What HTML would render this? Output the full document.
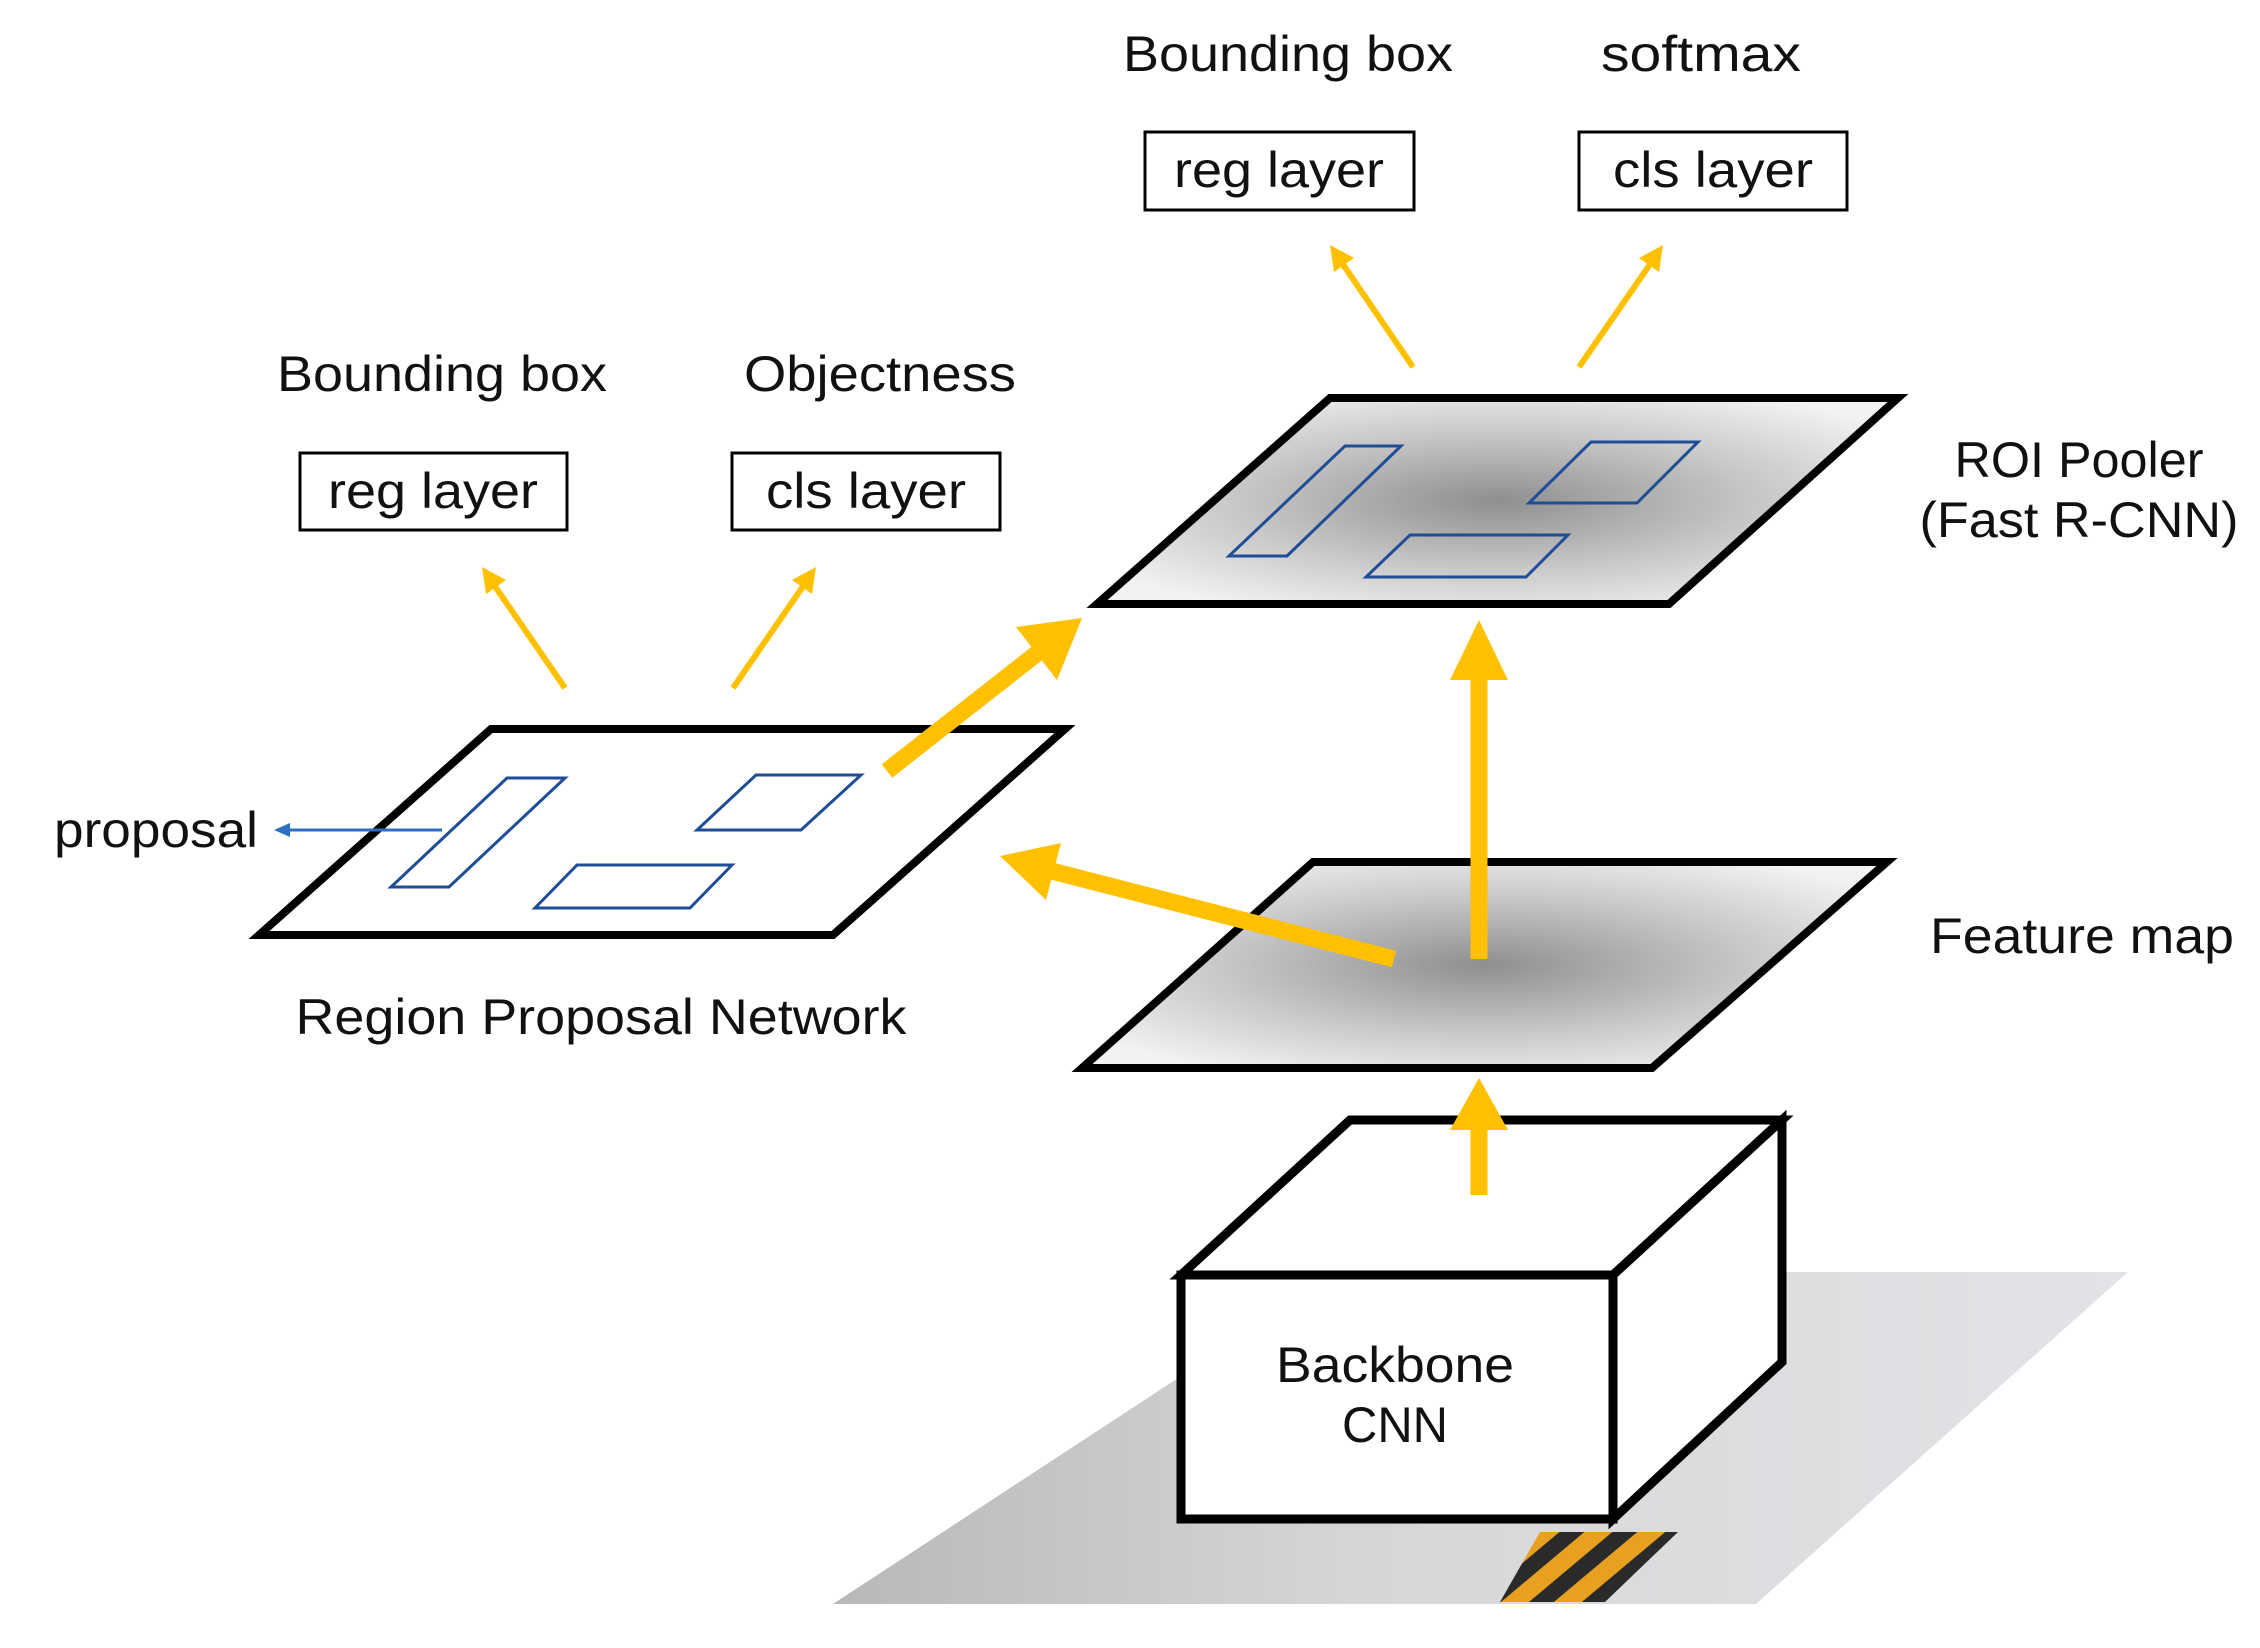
<!DOCTYPE html>
<html><head><meta charset="utf-8"><style>
html,body{margin:0;padding:0;background:#fff;}
svg{display:block;}
text{font-family:"Liberation Sans Narrow","Liberation Sans",sans-serif;fill:#111;font-size:50px;}
</style></head><body>
<svg width="2260" height="1648" viewBox="0 0 2260 1648" xmlns="http://www.w3.org/2000/svg">
<defs>
<radialGradient id="g1" cx="50%" cy="50%" r="60%">
<stop offset="0" stop-color="#8f8f8f"/><stop offset="0.55" stop-color="#c8c8c8"/><stop offset="1" stop-color="#f2f2f2"/>
</radialGradient>
<linearGradient id="ph" x1="0" y1="0" x2="1" y2="0">
<stop offset="0" stop-color="#b8b8b8"/><stop offset="0.4" stop-color="#d6d6d8"/><stop offset="1" stop-color="#e4e2e6"/>
</linearGradient>
<pattern id="hz" width="34" height="34" patternUnits="userSpaceOnUse" patternTransform="rotate(-40)">
<rect width="34" height="34" fill="#e8a020"/><rect width="34" height="16" fill="#2a2a2a"/>
</pattern>
</defs>
<!-- photo base -->
<polygon points="1340,1272 2128,1272 1756,1604 833,1604" fill="url(#ph)"/>
<polygon points="1540,1532 1678,1532 1605,1602 1500,1602" fill="url(#hz)"/>
<!-- backbone box -->
<polygon points="1181,1275 1350,1120 1782,1120 1613,1275" fill="#fff" stroke="#000" stroke-width="9" stroke-linejoin="miter"/>
<polygon points="1782,1120 1782,1362 1613,1519 1613,1275" fill="#fff" stroke="#000" stroke-width="9"/>
<rect x="1181" y="1275" width="432" height="244" fill="#fff" stroke="#000" stroke-width="9"/>
<text x="1395" y="1382" text-anchor="middle" textLength="238" lengthAdjust="spacingAndGlyphs">Backbone</text>
<text x="1395" y="1442" text-anchor="middle" textLength="106" lengthAdjust="spacingAndGlyphs">CNN</text>
<!-- feature map -->
<polygon points="1313,862 1887,862 1652,1068 1082,1068" fill="url(#g1)" stroke="#000" stroke-width="8"/>
<text x="2082" y="953" text-anchor="middle" textLength="304" lengthAdjust="spacingAndGlyphs">Feature map</text>
<!-- ROI pooler -->
<polygon points="1330,398 1898,398 1669,604 1097,604" fill="url(#g1)" stroke="#000" stroke-width="8"/>
<g fill="none" stroke="#1f4e96" stroke-width="3">
<polygon points="1229,556 1287,556 1401,446 1345,446"/>
<polygon points="1366,577 1526,577 1568,535 1410,535"/>
<polygon points="1529,503 1637,503 1698,442 1591,442"/>
</g>
<text x="2079" y="477" text-anchor="middle" textLength="249" lengthAdjust="spacingAndGlyphs">ROI Pooler</text>
<text x="2079" y="537" text-anchor="middle" textLength="319" lengthAdjust="spacingAndGlyphs">(Fast R-CNN)</text>
<!-- RPN -->
<polygon points="491,729 1065,729 833,935 259,935" fill="#fff" stroke="#000" stroke-width="8"/>
<g fill="none" stroke="#1f4e96" stroke-width="3">
<polygon points="391,887 449,887 565,778 507,778"/>
<polygon points="535,908 690,908 732,865 577,865"/>
<polygon points="697,830 801,830 861,775 756,775"/>
</g>
<line x1="442" y1="830" x2="285" y2="830" stroke="#2a6fc0" stroke-width="3"/>
<polygon points="274,830 290,823 290,837" fill="#2a6fc0"/>
<text x="156" y="847" text-anchor="middle" textLength="204" lengthAdjust="spacingAndGlyphs">proposal</text>
<text x="601" y="1034" text-anchor="middle" textLength="611" lengthAdjust="spacingAndGlyphs">Region Proposal Network</text>
<!-- big yellow arrows -->
<g stroke="#ffc000" stroke-width="17" fill="#ffc000">
<line x1="887" y1="771" x2="1040" y2="651"/>
<line x1="1394" y1="959" x2="1040" y2="868"/>
<line x1="1479" y1="959" x2="1479" y2="672"/>
<line x1="1479" y1="1195" x2="1479" y2="1125"/>
</g>
<g fill="#ffc000">
<polygon points="1082,618 1057,680 1016,627"/>
<polygon points="1000,856 1061,843 1046,900"/>
<polygon points="1479,620 1508,680 1450,680"/>
<polygon points="1479,1078 1508,1130 1450,1130"/>
</g>
<!-- small arrows -->
<g stroke="#ffc000" stroke-width="6">
<line x1="565" y1="688" x2="492" y2="582"/>
<line x1="733" y1="688" x2="806" y2="582"/>
<line x1="1413" y1="367" x2="1340" y2="260"/>
<line x1="1579" y1="367" x2="1653" y2="260"/>
</g>
<g fill="#ffc000">
<polygon points="482,567 506,580 486,594"/>
<polygon points="816,567 812,594 792,580"/>
<polygon points="1330,245 1354,258 1334,272"/>
<polygon points="1663,245 1659,272 1639,258"/>
</g>
<!-- boxes -->
<g fill="#fff" stroke="#000" stroke-width="3">
<rect x="300" y="453" width="267" height="77"/>
<rect x="732" y="453" width="268" height="77"/>
<rect x="1145" y="132" width="269" height="78"/>
<rect x="1579" y="132" width="268" height="78"/>
</g>
<text x="433" y="508" text-anchor="middle" textLength="210" lengthAdjust="spacingAndGlyphs">reg layer</text>
<text x="866" y="508" text-anchor="middle" textLength="200" lengthAdjust="spacingAndGlyphs">cls layer</text>
<text x="1279" y="187" text-anchor="middle" textLength="210" lengthAdjust="spacingAndGlyphs">reg layer</text>
<text x="1713" y="187" text-anchor="middle" textLength="200" lengthAdjust="spacingAndGlyphs">cls layer</text>
<text x="442" y="391" text-anchor="middle" textLength="330" lengthAdjust="spacingAndGlyphs">Bounding box</text>
<text x="880" y="391" text-anchor="middle" textLength="272" lengthAdjust="spacingAndGlyphs">Objectness</text>
<text x="1288" y="71" text-anchor="middle" textLength="330" lengthAdjust="spacingAndGlyphs">Bounding box</text>
<text x="1701" y="71" text-anchor="middle" textLength="200" lengthAdjust="spacingAndGlyphs">softmax</text>
</svg>
</body></html>
